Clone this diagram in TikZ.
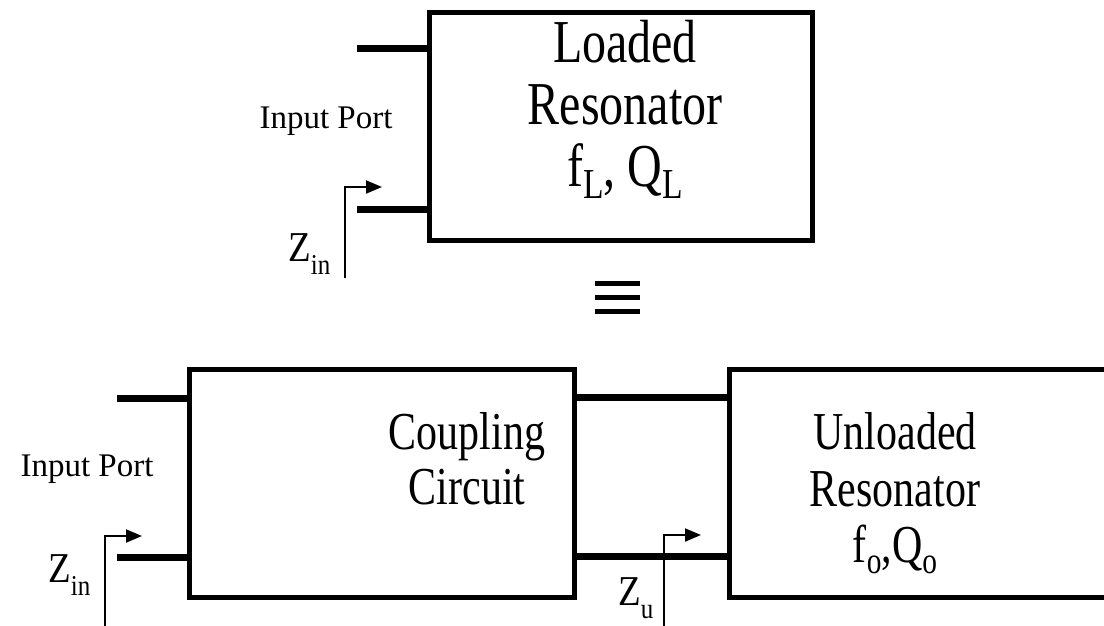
\documentclass[tikz,border=0pt]{standalone}
\usepackage{fontspec}
\usepackage{graphicx}
\setmainfont{Liberation Serif}
\usetikzlibrary{arrows.meta}
\newcommand\lsub[1]{\raisebox{-0.21em}{\scalebox{0.7}{#1}}}
\newcommand\zsub[1]{\raisebox{-12pt}{\fontsize{25}{25}\selectfont #1}}
\newcommand\tall[1]{\scalebox{1}[1.27]{#1}}
\newcommand\ztall[1]{\scalebox{1}[1.15]{#1}}
\begin{document}
\begin{tikzpicture}[x=1pt,y=-1pt,
  box/.style={draw,line width=5pt,inner sep=0pt,outer sep=0pt},
  lead/.style={line width=7pt},
  zarrow/.style={line width=2pt,-{Triangle[length=16pt,width=13pt]}},
  equivbar/.style={line width=5pt},
  bigtop/.style={font=\fontsize{48}{48}\selectfont,inner sep=0pt,anchor=base},
  bigbot/.style={font=\fontsize{42}{42}\selectfont,inner sep=0pt,anchor=base},
  port/.style={font=\fontsize{33}{34}\selectfont,inner sep=0pt,anchor=base},
  zlab/.style={font=\fontsize{37}{38}\selectfont,inner sep=0pt,anchor=base west}]
\useasboundingbox (0,0) rectangle (1104,625);
\clip (0,0) rectangle (1104,625);
% ---------- top: loaded resonator ----------
\node[box,minimum width=382.5pt,minimum height=227.5pt] (lr) at (620.75,126.25) {};
\coordinate (tl1) at (357,48);
\coordinate (tl2) at (357,209);
\draw[lead] (tl1) -- (tl1 -| lr.west);
\draw[lead] (tl2) -- (tl2 -| lr.west);
\node[bigtop] (lr1) at (625,62) {\tall{Loaded}};
\node[bigtop] (lr2) at (625,124) {\tall{Resonator}};
\node[bigtop] (lr3) at (625,186) {\tall{f\lsub{L}, Q\lsub{L}}};
\node[port] (ip1) at (326,128) {Input Port};
\coordinate (za1) at (345,278);
\coordinate (za1t) at (382,187);
\draw[zarrow] (za1) |- (za1t);
\node[zlab] (z1) at (288,261) {\ztall{Z\zsub{in}}};
% ---------- equivalence sign ----------
\coordinate (e1) at (595,283);
\coordinate (e2) at (595,297);
\coordinate (e3) at (595,311);
\draw[equivbar] (e1) -- ++(45,0);
\draw[equivbar] (e2) -- ++(45,0);
\draw[equivbar] (e3) -- ++(45,0);
% ---------- bottom: coupling circuit + unloaded resonator ----------
\node[box,minimum width=384.5pt,minimum height=228pt] (cc) at (381.75,483) {};
\node[box,minimum width=390pt,minimum height=228pt] (ur) at (924.5,483) {};
\coordinate (bl1) at (117,398);
\coordinate (bl2) at (117,557);
\draw[lead] (bl1) -- (bl1 -| cc.west);
\draw[lead] (bl2) -- (bl2 -| cc.west);
\draw[lead] (cc.east |- 0,397) -- (ur.west |- 0,397);
\draw[lead] (cc.east |- 0,556) -- (ur.west |- 0,556);
\node[bigbot] (cc1) at (467,449) {\tall{Coupling}};
\node[bigbot] (cc2) at (467,504) {\tall{Circuit}};
\node[bigbot] (ur1) at (895,449) {\tall{Unloaded}};
\node[bigbot] (ur2) at (895,506) {\tall{Resonator}};
\node[bigbot] (ur3) at (895,562) {\tall{f\lsub{o},Q\lsub{o}}};
\node[port] (ip2) at (87,476) {Input Port};
\coordinate (za2) at (105,630);
\coordinate (za2t) at (142,536);
\draw[zarrow] (za2) |- (za2t);
\node[zlab] (z2) at (48,582) {\ztall{Z\zsub{in}}};
\coordinate (za3) at (664,630);
\coordinate (za3t) at (701,535);
\draw[zarrow] (za3) |- (za3t);
\node[zlab] (z3) at (618,605) {\ztall{Z\zsub{u}}};
\end{tikzpicture}
\end{document}
